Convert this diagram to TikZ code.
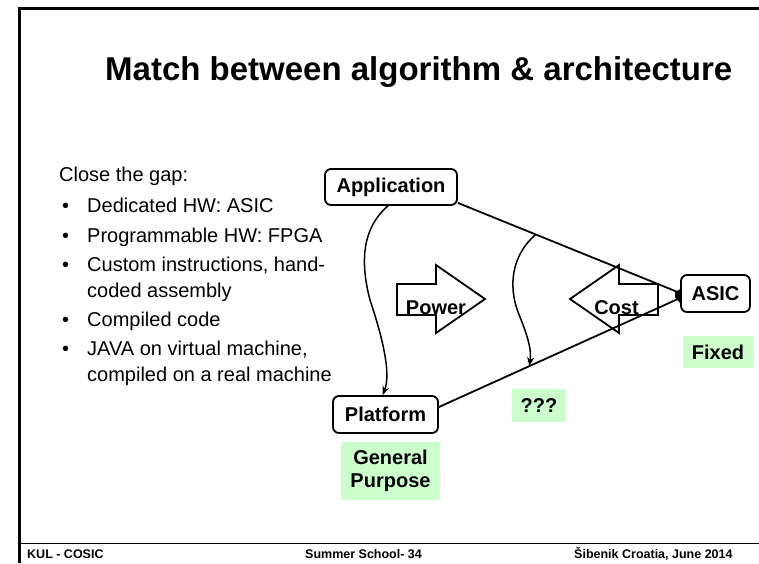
\documentclass[tikz,border=0pt]{standalone}
\usepackage{fontspec}
\setmainfont{Liberation Sans}
\usetikzlibrary{arrows.meta,calc}
\definecolor{paleGreen}{HTML}{CCFFCC}

\begin{document}
\begin{tikzpicture}[x=1pt,y=-1pt,
  box/.style={draw, line width=1.8pt, rounded corners=6pt, inner sep=0pt,
    font=\fontsize{20}{24}\selectfont\bfseries},
  tag/.style={fill=paleGreen, inner sep=0pt, align=center,
    font=\fontsize{20}{23}\selectfont\bfseries},
  link/.style={line width=1.8pt},
  bend arrow/.style={line width=1.5pt, -{Stealth[length=9pt,width=7pt]}},
  block/.style={draw, line width=1.8pt, line join=miter},
  blocklabel/.style={anchor=base, inner sep=0pt, font=\fontsize{20}{24}\selectfont\bfseries},
  body/.style={anchor=base west, inner sep=0pt, font=\fontsize{20}{24}\selectfont},
  foot/.style={anchor=base west, inner sep=0pt, font=\fontsize{12.5}{14}\selectfont\bfseries}]
\useasboundingbox (0,0) rectangle (759,563);

% slide frame
\draw[line width=3pt] (19,563) -- (19,8.5) -- (759,8.5);
\draw[line width=1pt] (19,543) -- (759,543);

% title
\node[anchor=base west, inner sep=0pt, font=\fontsize{33}{40}\selectfont\bfseries]
  (title) at (105,80) {Match between algorithm \& architecture};

% bullet list
\node[body] (gap) at (59,181) {Close the gap:};
\foreach \i/\yy in {1/212, 2/242, 3/271, 4/326, 5/355}
  \node[body] (dot\i) at (62,\yy) {•};
\node[body] (item1) at (87,212) {Dedicated HW: ASIC};
\node[body] (item2) at (87,242) {Programmable HW: FPGA};
\node[body] (item3) at (87,271) {Custom instructions, hand-};
\node[body] (item3b) at (87,297) {coded assembly};
\node[body] (item4) at (87,326) {Compiled code};
\node[body] (item5) at (87,355) {JAVA on virtual machine,};
\node[body] (item5b) at (87,381) {compiled on a real machine};

% boxes
\node[box, minimum width=132, minimum height=36] (app) at (391,187) {Application};
\node[box, minimum width=69, minimum height=37] (asic) at (715.5,293.5) {ASIC};
\node[box, minimum width=105, minimum height=37] (plat) at (385.5,414.5) {Platform};

% green tags
\node[tag, minimum width=70, minimum height=32] (fixed) at (718,352) {Fixed};
\node[tag, minimum width=54, minimum height=33] (unknown) at (539,405.5) {???};
\node[tag, minimum width=99, minimum height=58] (general) at (390.5,471) {General\\Purpose};

% connecting lines towards ASIC
\draw[link] ([yshift=3pt]app.south east) -- coordinate[pos=0.35] (split) ([yshift=0.5pt]asic.west);
\draw[link] ([yshift=7.5pt]plat.east) -- coordinate[pos=0.375] (land) ([yshift=-4.5pt]asic.west);
\fill ([xshift=-5pt,yshift=1pt]asic.west) -- ([yshift=4.5pt]asic.west)
  -- ([yshift=-9.5pt]asic.west) -- ([xshift=-5pt,yshift=-4pt]asic.west) -- cycle;

% curved arrows
\draw[bend arrow] ([xshift=-3pt]app.south) .. controls (362,228) and (360,262) .. (370,300)
  .. controls (380,330) and (392,372) .. ([xshift=-3pt]plat.north);
\draw[bend arrow] (split) .. controls (512,255) and (508,285) .. (518,312)
  .. controls (526,332) and (532,348) .. (land);

% block arrows
\draw[block] (397,284) -- (436,284) -- (436,265) -- (485,299) -- (436,333)
  -- (436,315) -- (397,315) -- cycle;
\node[blocklabel] (power) at (436,314) {Power};
\draw[block] (658,284) -- (619,284) -- (619,265) -- (570,299) -- (619,333)
  -- (619,315) -- (658,315) -- cycle;
\node[blocklabel] (cost) at (616.5,314) {Cost};

% footer
\node[foot] (org) at (27,558) {KUL - COSIC};
\node[foot] (event) at (305,558) {Summer School- 34};
\node[foot] (venue) at (574,558) {Šibenik Croatia, June 2014};
\end{tikzpicture}
\end{document}
